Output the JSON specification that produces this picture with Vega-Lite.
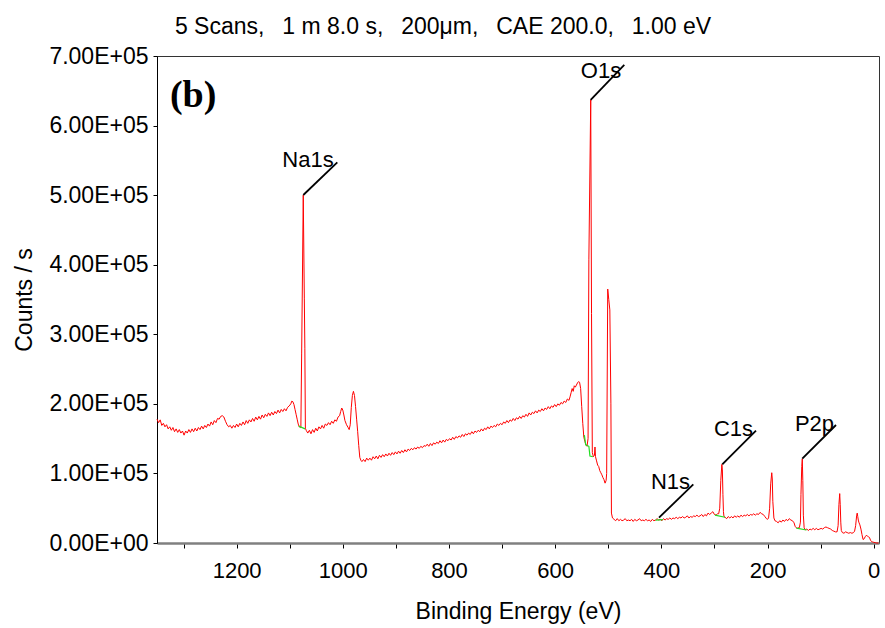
{
  "$schema": "https://vega.github.io/schema/vega-lite/v6.json",
  "width": 722,
  "height": 487,
  "autosize": {"type": "none"},
  "padding": {"left": 157, "top": 56, "right": 6, "bottom": 85},
  "background": "white",
  "title": {
    "text": "5 Scans, \u20021 m 8.0 s, \u2002200μm, \u2002CAE 200.0, \u20021.00 eV",
    "font": "Liberation Sans",
    "fontSize": 23,
    "fontWeight": "normal",
    "color": "black",
    "anchor": "middle",
    "frame": "group",
    "dx": -75,
    "dy": 34,
    "offset": 22,
    "baseline": "alphabetic"
  },
  "config": {
    "view": {"stroke": "#333333", "strokeWidth": 1},
    "axis": {"labelFont": "Liberation Sans", "titleFont": "Liberation Sans", "grid": false}
  },
  "datasets": {
    "spectrum": [
      {"be":1350,"c":178000},{"be":1347,"c":173000},{"be":1344,"c":177000},{"be":1341,"c":169000},{"be":1338,"c":172000},{"be":1335,"c":167000},{"be":1332,"c":170000},{"be":1329,"c":164000},{"be":1326,"c":167000},{"be":1323,"c":162000},{"be":1320,"c":166000},{"be":1317,"c":160000},{"be":1314,"c":164000},{"be":1311,"c":159000},{"be":1308,"c":163000},{"be":1305,"c":158000},{"be":1302,"c":161000},{"be":1299,"c":155000},{"be":1296,"c":161000},{"be":1293,"c":158000},{"be":1290,"c":163000},{"be":1287,"c":159000},{"be":1284,"c":164000},{"be":1281,"c":160000},{"be":1278,"c":165000},{"be":1275,"c":161000},{"be":1272,"c":166000},{"be":1269,"c":163000},{"be":1266,"c":168000},{"be":1263,"c":164000},{"be":1260,"c":169000},{"be":1257,"c":166000},{"be":1254,"c":171000},{"be":1251,"c":168000},{"be":1248,"c":174000},{"be":1245,"c":170000},{"be":1242,"c":176000},{"be":1239,"c":173000},{"be":1236,"c":179000},{"be":1233,"c":178000},{"be":1230,"c":182000},{"be":1227,"c":183000},{"be":1224,"c":181000},{"be":1221,"c":175000},{"be":1218,"c":170000},{"be":1215,"c":167000},{"be":1212,"c":169000},{"be":1209,"c":165000},{"be":1206,"c":169000},{"be":1203,"c":166000},{"be":1200,"c":171000},{"be":1197,"c":167000},{"be":1194,"c":172000},{"be":1191,"c":169000},{"be":1188,"c":174000},{"be":1185,"c":170000},{"be":1182,"c":176000},{"be":1179,"c":172000},{"be":1176,"c":177000},{"be":1173,"c":174000},{"be":1170,"c":179000},{"be":1167,"c":175000},{"be":1164,"c":181000},{"be":1161,"c":177000},{"be":1158,"c":182000},{"be":1155,"c":178000},{"be":1152,"c":184000},{"be":1149,"c":180000},{"be":1146,"c":185000},{"be":1143,"c":182000},{"be":1140,"c":187000},{"be":1137,"c":183000},{"be":1134,"c":188000},{"be":1131,"c":184000},{"be":1128,"c":189000},{"be":1125,"c":186000},{"be":1122,"c":191000},{"be":1119,"c":187000},{"be":1116,"c":192000},{"be":1113,"c":189000},{"be":1110,"c":193000},{"be":1107,"c":190000},{"be":1104,"c":195000},{"be":1101,"c":197000},{"be":1098,"c":200000},{"be":1096,"c":204000},{"be":1094,"c":203000},{"be":1092,"c":199000},{"be":1090,"c":192000},{"be":1088,"c":185000},{"be":1086,"c":178000},{"be":1084,"c":171000},{"be":1082,"c":167000},{"be":1080,"c":166000},{"be":1079,"c":166000},{"be":1077.5,"c":273000},{"be":1074.5,"c":500000},{"be":1072.5,"c":352000},{"be":1071.5,"c":280000},{"be":1070.5,"c":165000},{"be":1069,"c":162000},{"be":1066,"c":158000},{"be":1063,"c":162000},{"be":1060,"c":157000},{"be":1057,"c":163000},{"be":1054,"c":159000},{"be":1051,"c":165000},{"be":1048,"c":161000},{"be":1045,"c":167000},{"be":1042,"c":164000},{"be":1039,"c":169000},{"be":1036,"c":165000},{"be":1033,"c":171000},{"be":1030,"c":169000},{"be":1027,"c":173000},{"be":1024,"c":170000},{"be":1021,"c":175000},{"be":1018,"c":172000},{"be":1015,"c":177000},{"be":1012,"c":175000},{"be":1009,"c":181000},{"be":1006,"c":183000},{"be":1004,"c":189000},{"be":1002,"c":194000},{"be":1000,"c":191000},{"be":998,"c":184000},{"be":996,"c":176000},{"be":993,"c":170000},{"be":990,"c":166000},{"be":988,"c":163000},{"be":986,"c":170000},{"be":984,"c":195000},{"be":982,"c":212000},{"be":980,"c":218000},{"be":978,"c":212000},{"be":976,"c":196000},{"be":974,"c":178000},{"be":972,"c":160000},{"be":970,"c":140000},{"be":968,"c":123000},{"be":966,"c":119000},{"be":964,"c":117000},{"be":961,"c":120000},{"be":958,"c":117000},{"be":955,"c":122000},{"be":952,"c":119000},{"be":949,"c":122000},{"be":946,"c":119000},{"be":943,"c":124000},{"be":940,"c":121000},{"be":937,"c":125000},{"be":934,"c":121000},{"be":931,"c":126000},{"be":928,"c":123000},{"be":925,"c":127000},{"be":922,"c":124000},{"be":919,"c":128000},{"be":916,"c":125000},{"be":913,"c":129000},{"be":910,"c":126000},{"be":907,"c":130000},{"be":904,"c":127000},{"be":901,"c":131000},{"be":898,"c":128000},{"be":895,"c":132000},{"be":892,"c":129000},{"be":889,"c":133000},{"be":886,"c":130000},{"be":883,"c":134000},{"be":880,"c":131000},{"be":877,"c":135000},{"be":874,"c":133000},{"be":871,"c":136000},{"be":868,"c":134000},{"be":865,"c":137000},{"be":862,"c":135000},{"be":859,"c":138000},{"be":856,"c":136000},{"be":853,"c":139000},{"be":850,"c":137000},{"be":847,"c":140000},{"be":844,"c":139000},{"be":841,"c":142000},{"be":838,"c":139000},{"be":835,"c":143000},{"be":832,"c":140000},{"be":829,"c":144000},{"be":826,"c":142000},{"be":823,"c":145000},{"be":820,"c":143000},{"be":817,"c":147000},{"be":814,"c":144000},{"be":811,"c":148000},{"be":808,"c":145000},{"be":805,"c":149000},{"be":802,"c":147000},{"be":799,"c":150000},{"be":796,"c":148000},{"be":793,"c":152000},{"be":790,"c":149000},{"be":787,"c":153000},{"be":784,"c":151000},{"be":781,"c":154000},{"be":778,"c":152000},{"be":775,"c":156000},{"be":772,"c":153000},{"be":769,"c":157000},{"be":766,"c":155000},{"be":763,"c":158000},{"be":760,"c":156000},{"be":757,"c":160000},{"be":754,"c":157000},{"be":751,"c":161000},{"be":748,"c":159000},{"be":745,"c":162000},{"be":742,"c":160000},{"be":739,"c":164000},{"be":736,"c":161000},{"be":733,"c":165000},{"be":730,"c":163000},{"be":727,"c":167000},{"be":724,"c":164000},{"be":721,"c":168000},{"be":718,"c":166000},{"be":715,"c":169000},{"be":712,"c":167000},{"be":709,"c":171000},{"be":706,"c":169000},{"be":703,"c":172000},{"be":700,"c":170000},{"be":697,"c":174000},{"be":694,"c":172000},{"be":691,"c":176000},{"be":688,"c":173000},{"be":685,"c":177000},{"be":682,"c":175000},{"be":679,"c":179000},{"be":676,"c":176000},{"be":673,"c":180000},{"be":670,"c":178000},{"be":667,"c":182000},{"be":664,"c":179000},{"be":661,"c":183000},{"be":658,"c":181000},{"be":655,"c":185000},{"be":652,"c":182000},{"be":649,"c":187000},{"be":646,"c":184000},{"be":643,"c":188000},{"be":640,"c":186000},{"be":637,"c":190000},{"be":634,"c":187000},{"be":631,"c":191000},{"be":628,"c":189000},{"be":625,"c":193000},{"be":622,"c":190000},{"be":619,"c":194000},{"be":616,"c":192000},{"be":613,"c":196000},{"be":610,"c":193000},{"be":607,"c":197000},{"be":604,"c":195000},{"be":601,"c":199000},{"be":598,"c":196000},{"be":595,"c":200000},{"be":592,"c":198000},{"be":589,"c":202000},{"be":586,"c":200000},{"be":583,"c":204000},{"be":580,"c":202000},{"be":577,"c":207000},{"be":574,"c":205000},{"be":572,"c":210000},{"be":570,"c":216000},{"be":568,"c":222000},{"be":566,"c":218000},{"be":564,"c":226000},{"be":562,"c":224000},{"be":560,"c":227000},{"be":558,"c":230000},{"be":556,"c":232000},{"be":554,"c":231000},{"be":552,"c":222000},{"be":550,"c":196000},{"be":548,"c":172000},{"be":546,"c":152000},{"be":544,"c":146000},{"be":542,"c":141000},{"be":540,"c":139000},{"be":538,"c":150000},{"be":536.5,"c":407000},{"be":533,"c":637000},{"be":531.5,"c":330000},{"be":530,"c":130000},{"be":528,"c":124000},{"be":526,"c":126000},{"be":525,"c":138000},{"be":524,"c":124000},{"be":522,"c":118000},{"be":520,"c":112000},{"be":518,"c":110000},{"be":516,"c":104000},{"be":514,"c":101000},{"be":512,"c":98000},{"be":510,"c":94000},{"be":508,"c":91000},{"be":506,"c":86000},{"be":504,"c":90000},{"be":503,"c":100000},{"be":501,"c":365000},{"be":499,"c":350000},{"be":497,"c":335000},{"be":495,"c":200000},{"be":494,"c":43000},{"be":492,"c":36000},{"be":489,"c":34000},{"be":486,"c":32000},{"be":483,"c":35000},{"be":480,"c":32000},{"be":477,"c":34000},{"be":474,"c":32000},{"be":471,"c":33000},{"be":468,"c":35000},{"be":465,"c":32000},{"be":462,"c":33000},{"be":459,"c":32000},{"be":456,"c":34000},{"be":453,"c":31000},{"be":450,"c":34000},{"be":447,"c":32000},{"be":444,"c":33000},{"be":441,"c":35000},{"be":438,"c":32000},{"be":435,"c":33000},{"be":432,"c":32000},{"be":429,"c":34000},{"be":426,"c":32000},{"be":423,"c":33000},{"be":420,"c":31000},{"be":417,"c":34000},{"be":414,"c":32000},{"be":411,"c":33000},{"be":408,"c":35000},{"be":405,"c":33000},{"be":402,"c":34000},{"be":399,"c":32000},{"be":396,"c":35000},{"be":393,"c":33000},{"be":390,"c":35000},{"be":387,"c":34000},{"be":384,"c":36000},{"be":381,"c":34000},{"be":378,"c":36000},{"be":375,"c":35000},{"be":372,"c":37000},{"be":369,"c":35000},{"be":366,"c":37000},{"be":363,"c":36000},{"be":360,"c":38000},{"be":357,"c":36000},{"be":354,"c":37000},{"be":351,"c":39000},{"be":348,"c":36000},{"be":345,"c":38000},{"be":342,"c":37000},{"be":339,"c":39000},{"be":336,"c":38000},{"be":333,"c":40000},{"be":330,"c":38000},{"be":327,"c":39000},{"be":324,"c":41000},{"be":321,"c":38000},{"be":318,"c":41000},{"be":315,"c":39000},{"be":312,"c":43000},{"be":309,"c":41000},{"be":306,"c":43000},{"be":303,"c":45000},{"be":300,"c":41000},{"be":297,"c":40000},{"be":294,"c":42000},{"be":292,"c":42000},{"be":290,"c":50000},{"be":288,"c":90000},{"be":286,"c":113000},{"be":285,"c":105000},{"be":284,"c":70000},{"be":283,"c":45000},{"be":282,"c":38000},{"be":280,"c":37000},{"be":277,"c":35000},{"be":274,"c":38000},{"be":271,"c":36000},{"be":268,"c":38000},{"be":265,"c":36000},{"be":262,"c":39000},{"be":259,"c":37000},{"be":256,"c":39000},{"be":253,"c":37000},{"be":250,"c":40000},{"be":247,"c":38000},{"be":244,"c":40000},{"be":241,"c":39000},{"be":238,"c":41000},{"be":235,"c":39000},{"be":232,"c":41000},{"be":229,"c":40000},{"be":226,"c":42000},{"be":223,"c":40000},{"be":220,"c":42000},{"be":217,"c":41000},{"be":214,"c":44000},{"be":211,"c":42000},{"be":208,"c":41000},{"be":205,"c":38000},{"be":202,"c":35000},{"be":200,"c":34000},{"be":198,"c":36000},{"be":196,"c":50000},{"be":194,"c":85000},{"be":192,"c":101000},{"be":191,"c":92000},{"be":190,"c":60000},{"be":188,"c":36000},{"be":186,"c":32000},{"be":183,"c":31000},{"be":180,"c":29000},{"be":177,"c":32000},{"be":174,"c":30000},{"be":171,"c":33000},{"be":168,"c":31000},{"be":165,"c":34000},{"be":162,"c":32000},{"be":159,"c":35000},{"be":156,"c":33000},{"be":153,"c":32000},{"be":150,"c":29000},{"be":148,"c":24000},{"be":146,"c":22000},{"be":144,"c":21000},{"be":142,"c":22000},{"be":140,"c":22000},{"be":138,"c":30000},{"be":137,"c":70000},{"be":135.5,"c":110000},{"be":134.5,"c":121000},{"be":133.5,"c":90000},{"be":132.5,"c":40000},{"be":131,"c":22000},{"be":129,"c":19000},{"be":126,"c":20000},{"be":123,"c":18000},{"be":120,"c":20000},{"be":117,"c":19000},{"be":114,"c":21000},{"be":111,"c":19000},{"be":108,"c":21000},{"be":105,"c":19000},{"be":102,"c":20000},{"be":99,"c":21000},{"be":96,"c":20000},{"be":93,"c":22000},{"be":90,"c":23000},{"be":87,"c":22000},{"be":84,"c":21000},{"be":81,"c":20000},{"be":78,"c":18000},{"be":75,"c":17000},{"be":72,"c":16000},{"be":69,"c":16000},{"be":67,"c":25000},{"be":65.5,"c":55000},{"be":64,"c":71000},{"be":63,"c":55000},{"be":62,"c":30000},{"be":61,"c":18000},{"be":59,"c":15000},{"be":56,"c":14000},{"be":53,"c":16000},{"be":50,"c":15000},{"be":47,"c":14000},{"be":44,"c":15000},{"be":41,"c":14000},{"be":38,"c":15000},{"be":36,"c":17000},{"be":34,"c":25000},{"be":32,"c":40000},{"be":31,"c":43000},{"be":30,"c":38000},{"be":29,"c":33000},{"be":28,"c":30000},{"be":26,"c":26000},{"be":24,"c":20000},{"be":22,"c":12000},{"be":20,"c":5000},{"be":18,"c":6000},{"be":16,"c":9000},{"be":14,"c":11000},{"be":12,"c":10000},{"be":10,"c":9000},{"be":8,"c":8000},{"be":6,"c":4000},{"be":4,"c":2000},{"be":2,"c":1500},{"be":0,"c":1000},{"be":-3,"c":500},{"be":-6,"c":0},{"be":-9,"c":0}
    ],
    "bg": [
      {"seg":"Na1s","be":1083,"c":168000},{"seg":"Na1s","be":1071,"c":164000},
      {"seg":"O1s","be":545,"c":155000},{"seg":"O1s","be":542.5,"c":141000},{"seg":"O1s","be":536.5,"c":139000},{"seg":"O1s","be":534.5,"c":125000},{"seg":"O1s","be":529,"c":124000},
      {"seg":"N1s","be":411,"c":33000},{"seg":"N1s","be":397,"c":33500},
      {"seg":"C1s","be":299,"c":40000},{"seg":"C1s","be":280,"c":37000},
      {"seg":"P2p","be":145.5,"c":21500},{"seg":"P2p","be":126.6,"c":18700}
    ],
    "ann": [
      {"label":"Na1s","x1":1074.4,"y1":500200,"x2":1010.4,"y2":547200,"tx":1065.6,"ty":540500},
      {"label":"O1s","x1":533.1,"y1":636800,"x2":469.8,"y2":687100,"tx":513.7,"ty":668400},
      {"label":"N1s","x1":404.4,"y1":36400,"x2":339.8,"y2":84400,"tx":382.8,"ty":77600},
      {"label":"C1s","x1":285.2,"y1":113100,"x2":221.7,"y2":161400,"tx":264,"ty":153800},
      {"label":"P2p","x1":134.5,"y1":121200,"x2":71,"y2":169600,"tx":111.5,"ty":161000}
    ]
  },
  "layer": [
    {
      "data": {"name": "spectrum"},
      "mark": {"type": "line", "color": "#ff0000", "strokeWidth": 1},
      "encoding": {
        "x": {
          "field": "be", "type": "quantitative",
          "scale": {"domain": [-10, 1350], "reverse": true, "nice": false, "zero": false},
          "axis": {
            "values": [0,100,200,300,400,500,600,700,800,900,1000,1100,1200,1300],
            "labelExpr": "datum.value % 200 == 0 ? datum.label : ''",
            "format": "d",
            "labelFontSize": 22, "labelColor": "black", "labelPadding": 12,
            "labelFlush": false, "labelOverlap": false,
            "tickColor": "black", "tickSize": 5, "tickWidth": 1,
            "domainColor": "#808080", "domainWidth": 2.5,
            "title": "Binding Energy (eV)", "titleFontSize": 23, "titleFontWeight": "normal",
            "titleColor": "black", "titlePadding": 19
          }
        },
        "y": {
          "field": "c", "type": "quantitative",
          "scale": {"domain": [0, 700000], "nice": false},
          "axis": {
            "values": [0,50000,100000,150000,200000,250000,300000,350000,400000,450000,500000,550000,600000,650000,700000],
            "labelExpr": "datum.value % 100000 == 0 ? format(datum.value / 100000, '.2f') + (datum.value == 0 ? 'E+00' : 'E+05') : ''",
            "labelFontSize": 23, "labelColor": "black", "labelPadding": 5,
            "labelFlush": false, "labelOverlap": false,
            "tickColor": "black", "tickSize": 4, "tickWidth": 1,
            "domainColor": "black", "domainWidth": 1,
            "title": "Counts / s", "titleFontSize": 23, "titleFontWeight": "normal",
            "titleColor": "black", "titlePadding": 12
          }
        }
      }
    },
    {
      "data": {"name": "bg"},
      "mark": {"type": "line", "color": "#22dd22", "strokeWidth": 1.2},
      "encoding": {
        "x": {"field": "be", "type": "quantitative"},
        "y": {"field": "c", "type": "quantitative"},
        "detail": {"field": "seg"}
      }
    },
    {
      "data": {"name": "ann"},
      "mark": {"type": "rule", "color": "black", "strokeWidth": 1.8},
      "encoding": {
        "x": {"field": "x1", "type": "quantitative"},
        "y": {"field": "y1", "type": "quantitative"},
        "x2": {"field": "x2"},
        "y2": {"field": "y2"}
      }
    },
    {
      "data": {"name": "ann"},
      "mark": {"type": "text", "font": "Liberation Sans", "fontSize": 22, "align": "center", "baseline": "alphabetic", "color": "black"},
      "encoding": {
        "x": {"field": "tx", "type": "quantitative"},
        "y": {"field": "ty", "type": "quantitative"},
        "text": {"field": "label"}
      }
    },
    {
      "data": {"values": [{"label": "(b)", "tx": 1282, "ty": 626600}]},
      "mark": {"type": "text", "font": "Liberation Serif", "fontWeight": "bold", "fontSize": 38, "align": "center", "baseline": "alphabetic", "color": "black"},
      "encoding": {
        "x": {"field": "tx", "type": "quantitative"},
        "y": {"field": "ty", "type": "quantitative"},
        "text": {"field": "label"}
      }
    }
  ]
}
